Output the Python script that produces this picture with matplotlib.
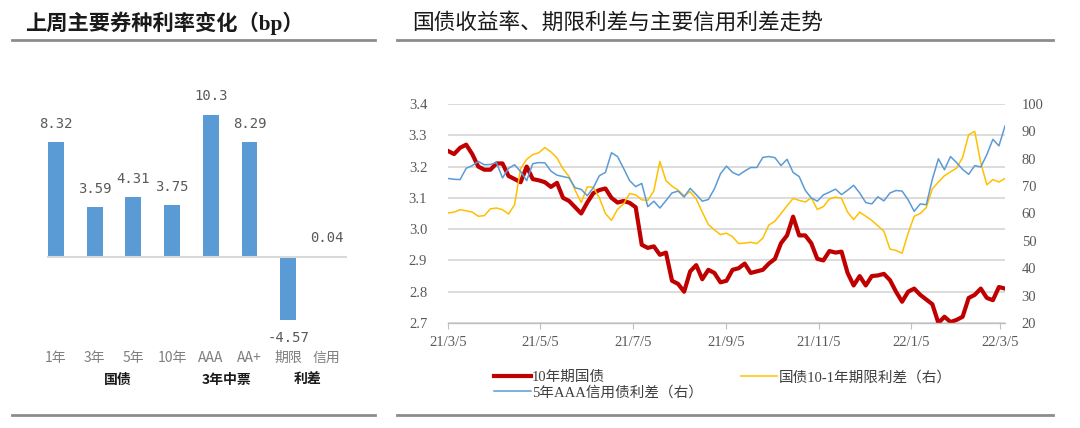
import matplotlib
matplotlib.use("Agg")
import matplotlib.pyplot as plt
import pandas as pd
from matplotlib.lines import Line2D

# 左图：上周主要券种利率变化（bp）
bar_labels = ["1年", "3年", "5年", "10年", "AAA", "AA+", "期限", "信用"]
bar_values = [8.32, 3.59, 4.31, 3.75, 10.3, 8.29, -4.57, 0.04]
bar_texts = ["8.32", "3.59", "4.31", "3.75", "10.3", "8.29", "-4.57", "0.04"]
group_labels = ["国债", "3年中票", "利差"]

# 右图：国债收益率、期限利差与信用利差（每4天取样）
start_date = "2021-03-05"
n_points = 93
yield_10y = [3.25, 3.24, 3.26, 3.27, 3.24, 3.20, 3.19, 3.19, 3.21, 3.21,
             3.17, 3.16, 3.15, 3.20, 3.16, 3.156, 3.15, 3.135, 3.148, 3.10,
             3.09, 3.07, 3.05, 3.085, 3.115, 3.125, 3.13, 3.10, 3.085, 3.09,
             3.084, 3.07, 2.95, 2.94, 2.945, 2.918, 2.925, 2.835, 2.825, 2.80,
             2.865, 2.885, 2.84, 2.87, 2.86, 2.83, 2.835, 2.87, 2.875, 2.89,
             2.86, 2.865, 2.87, 2.89, 2.905, 2.955, 2.98, 3.04, 2.98, 2.98,
             2.955, 2.905, 2.90, 2.93, 2.925, 2.928, 2.86, 2.82, 2.85, 2.82,
             2.85, 2.852, 2.857, 2.837, 2.80, 2.768, 2.80, 2.81, 2.79, 2.775,
             2.76, 2.70, 2.72, 2.703, 2.71, 2.72, 2.78, 2.79, 2.81, 2.78,
             2.773, 2.815, 2.81]
term_spread = [60.2, 60.5, 61.4, 61.0, 60.5, 59.0, 59.2, 61.7, 62.0, 61.4,
               59.8, 63.2, 76.5, 79.8, 81.5, 82.2, 84.1, 82.5, 80.3, 76.3,
               73.5, 68.5, 64.0, 69.7, 69.6, 65.7, 60.0, 57.5, 61.5, 63.5,
               67.3, 66.8, 65.0, 64.8, 68.3, 79.0, 72.0, 70.0, 68.5, 66.5,
               68.0, 65.3, 60.5, 56.0, 54.0, 52.3, 52.8, 51.5, 49.0, 49.2,
               49.5, 49.0, 51.0, 55.8, 57.2, 60.0, 62.8, 65.5, 64.8, 64.2,
               65.7, 61.5, 62.5, 65.3, 66.0, 65.5, 60.5, 57.8, 60.5, 59.0,
               57.5, 55.5, 53.5, 47.0, 46.5, 45.5, 52.8, 59.0, 60.0, 62.2,
               69.0, 71.5, 73.8, 75.2, 76.6, 80.5, 88.8, 90.0, 78.5, 70.5,
               72.4, 71.5, 72.8]
credit_spread = [72.8, 72.5, 72.4, 76.5, 77.5, 79.0, 77.8, 77.9, 78.6, 73.0,
                 76.5, 77.8, 75.3, 72.0, 78.2, 78.6, 78.5, 75.5, 74.0, 73.5,
                 73.0, 69.4, 68.8, 66.5, 69.4, 73.8, 75.0, 82.2, 80.8, 76.5,
                 72.0, 69.8, 71.0, 62.5, 64.5, 62.0, 64.7, 67.5, 68.2, 66.0,
                 69.2, 66.9, 64.5, 65.1, 69.0, 74.5, 77.3, 75.0, 74.0, 75.5,
                 76.8, 76.8, 80.5, 80.8, 80.4, 77.5, 79.8, 75.0, 73.5, 68.5,
                 65.7, 64.5, 66.8, 67.8, 68.9, 66.9, 68.5, 70.3, 67.5, 64.0,
                 63.5, 66.1, 64.6, 67.5, 68.4, 68.2, 65.0, 60.8, 63.5, 63.2,
                 72.5, 80.0, 76.0, 80.8, 78.6, 76.1, 74.3, 77.5, 77.0, 81.5,
                 87.1, 84.7, 92.0]
tick_dates = ["2021-03-05", "2021-05-05", "2021-07-05", "2021-09-05",
              "2021-11-05", "2022-01-05", "2022-03-05"]
tick_labels = ["21/3/5", "21/5/5", "21/7/5", "21/9/5", "21/11/5", "22/1/5", "22/3/5"]
left_ticks = [2.7, 2.8, 2.9, 3.0, 3.1, 3.2, 3.3, 3.4]
right_ticks = [20, 30, 40, 50, 60, 70, 80, 90, 100]

CJK = "Noto Sans CJK SC"
MIX = ["Liberation Serif", CJK]
W, H = 1080, 428

fig = plt.figure(figsize=(W / 100, H / 100), dpi=100)


def fx(px):
    return px / W


def fy(py):
    return 1 - py / H


# 标题与分隔线
fig.text(fx(25), fy(23), "上周主要券种利率变化（bp）", family=MIX, fontsize=15.3,
         fontweight="bold", color="#1a1a1a", va="center", ha="left")
fig.text(fx(412), fy(23), "国债收益率、期限利差与主要信用利差走势", family=CJK,
         fontsize=15.6, color="#1a1a1a", va="center", ha="left")
for x0, x1 in [(12, 375), (397, 1053)]:
    for yy in (40, 415):
        fig.add_artist(Line2D([fx(x0), fx(x1)], [fy(yy), fy(yy)],
                              transform=fig.transFigure, color="#8c8c8c", lw=2))

# ---- 左图：柱状图
axb = fig.add_axes([fx(47), fy(340), fx(300), 249 / H])
pos = list(range(len(bar_values)))
axb.bar(pos, bar_values, width=0.41, color="#5b9bd5")
axb.axhline(0, color="#d9d9d9", lw=1.5)
axb.set_xlim(-0.23, 7.52)
axb.set_ylim(-6, 12)
axb.axis("off")
for i, (v, t) in enumerate(zip(bar_values, bar_texts)):
    off = 13 if v >= 0 else -13
    axb.annotate(t, xy=(i, v), xytext=(0, off), textcoords="offset points",
                 ha="center", va="center", fontsize=10,
                 family="DejaVu Sans Mono", color="#595959")
tr = axb.get_xaxis_transform()
for i, lab in enumerate(bar_labels):
    axb.text(i, -0.072, lab, transform=tr, ha="center", va="center",
             family=CJK, fontsize=10, color="#7f7f7f", clip_on=False)
for xg, lab in zip([1.6, 4.42, 6.49], group_labels):
    axb.text(xg, -0.161, lab, transform=tr, ha="center", va="center",
             family=CJK, fontsize=10, fontweight="bold", color="#1a1a1a",
             clip_on=False)

# ---- 右图：折线
dates = pd.date_range(start_date, periods=n_points, freq="4D")
ax = fig.add_axes([fx(448), fy(323), fx(557), 219 / H])
ax2 = ax.twinx()

l_red, = ax.plot(dates, yield_10y, color="#c00000", lw=3.0,
                 solid_joinstyle="round", label="10年期国债")
l_yel, = ax2.plot(dates, term_spread, color="#ffc000", lw=1.1,
                  label="国债10-1年期限利差（右）")
l_blu, = ax2.plot(dates, credit_spread, color="#5b9bd5", lw=1.1,
                  label="5年AAA信用债利差（右）")

ax.set_xlim(dates[0], dates[-1])
ax.set_ylim(2.7, 3.4)
ax.set_yticks(left_ticks)
ax.set_yticklabels([f"{t:.1f}" for t in left_ticks])
ax2.set_ylim(20, 100)
ax2.set_yticks(right_ticks)
ax2.set_yticklabels([str(t) for t in right_ticks])
ax.set_xticks(pd.to_datetime(tick_dates))
ax.set_xticklabels(tick_labels)

ax.grid(axis="y", color="#d9d9d9", lw=1.3)
ax.set_axisbelow(True)
for a in (ax, ax2):
    for s in ("top", "left", "right"):
        a.spines[s].set_visible(False)
ax2.spines["bottom"].set_visible(False)
ax.spines["bottom"].set_color("#bfbfbf")
ax.spines["bottom"].set_linewidth(1.0)
ax.tick_params(axis="x", direction="out", length=4, color="#bfbfbf", pad=5)
ax.tick_params(axis="y", length=0, pad=15)
ax2.tick_params(axis="y", length=0, pad=12)
for lab in ax.get_xticklabels() + ax.get_yticklabels() + ax2.get_yticklabels():
    lab.set_family("Liberation Serif")
    lab.set_fontsize(10.5)
    lab.set_color("#595959")

fig.legend(handles=[l_red, l_blu, l_yel], loc="upper left",
           bbox_to_anchor=(fx(487), fy(363)), ncol=2, frameon=False,
           borderpad=0, handlelength=2.5, handletextpad=0.1,
           columnspacing=2.6, labelspacing=0.1,
           prop={"family": MIX, "size": 10.5}, labelcolor="#3f3f3f")

fig.savefig("out.png", dpi=100)
